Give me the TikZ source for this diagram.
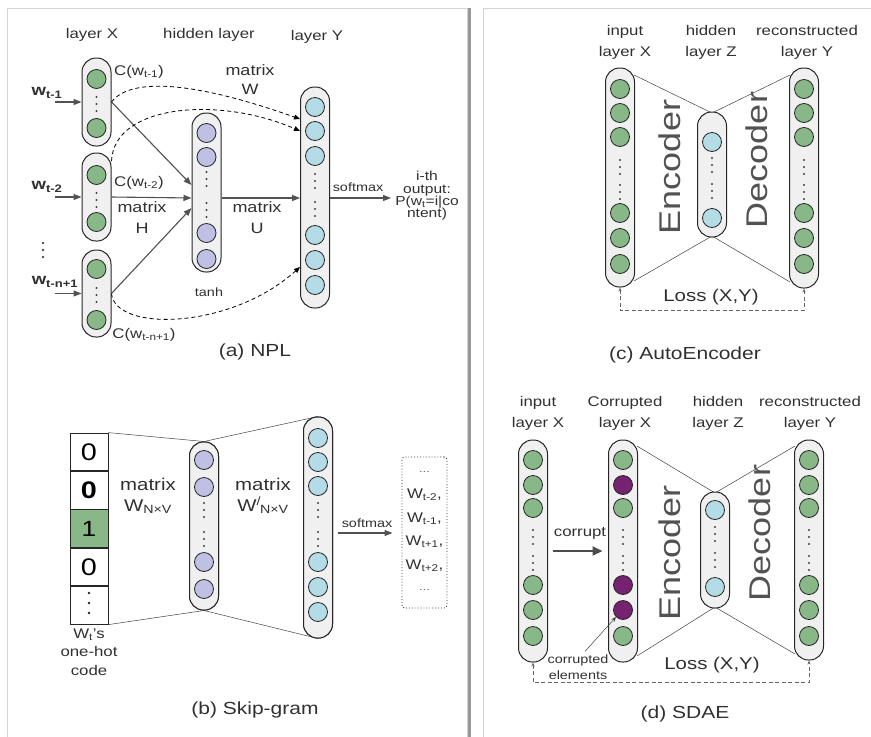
\documentclass[tikz,border=0pt]{standalone}
\usepackage{fontspec}
\setmainfont[FakeStretch=1.2]{Liberation Sans}
\usetikzlibrary{positioning, arrows.meta, calc}

\definecolor{ngreen}{RGB}{136,184,136}
\definecolor{nlav}{RGB}{192,192,228}
\definecolor{nblue}{RGB}{180,220,230}
\definecolor{npurp}{RGB}{118,34,112}
\definecolor{capfill}{RGB}{240,240,240}
\definecolor{txtgray}{RGB}{48,48,48}
\definecolor{framegray}{RGB}{212,212,212}

\newcommand{\sz}[2]{\fontsize{#1pt}{#2pt}\selectfont}
\newcommand{\coldots}[2]{\foreach \dy in {0,7,14} \fill[black!75] (#1,#2+\dy) circle (1.1pt);}

\begin{document}
\begin{tikzpicture}[
    x=1pt, y=-1pt,
    capsule/.style={draw=black!85, line width=1pt, fill=capfill, rounded corners=14pt, minimum width=29pt, inner sep=0pt},
    neuron/.style={circle, draw=black!85, line width=0.8pt, minimum size=19pt, inner sep=0pt},
    lbl/.style={text=txtgray, font=\sz{14}{20}, align=center, inner sep=0pt},
    small/.style={text=txtgray, font=\sz{12}{15}, align=center, inner sep=0pt},
    caption/.style={text=txtgray, font=\sz{17.5}{20}, inner sep=0pt},
    big/.style={text=black!68, font=\sz{30}{30}, rotate=90, inner sep=0pt},
    cell/.style={draw=black!85, line width=0.8pt, minimum width=38pt, minimum height=37.6pt, inner sep=0pt, font=\sz{24}{24}},
    garrow/.style={-{Triangle[length=8pt,width=6pt]}, line width=1.1pt, draw=black!68, fill=black!68},
    dasharrow/.style={-{Triangle[length=6pt,width=5pt]}, dash pattern=on 4pt off 3pt, line width=0.8pt},
    thinline/.style={draw=black!75, line width=0.5pt},
    lossline/.style={{Stealth[length=4pt,width=3pt]}-{Stealth[length=4pt,width=3pt]}, dash pattern=on 4pt off 2.5pt, draw=black!60, line width=0.6pt},
    bigarrow/.style={-{Triangle[length=10pt,width=9pt]}, line width=2pt, draw=black!70, fill=black!70},
]
\useasboundingbox (0,0) rectangle (871,737);

% panel frames
\draw[framegray, line width=0.8pt] (7,737) -- (7,8) -- (467,8) -- (467,737);
\draw[black!40, line width=2.5pt] (469.5,8) -- (469.5,737);
\draw[framegray, line width=0.8pt] (483,737) -- (483,8) -- (871,8);

% ---------------- (a) NPL ----------------
\node[lbl] (labx) at (92,35) {layer X};
\node[lbl] (labh) at (209,35) {hidden layer};
\node[lbl] (laby) at (317,37) {layer Y};

\node[capsule, minimum height=88pt] (x1) at (96.5,102) {};
\node[capsule, minimum height=88pt] (x2) at (96.5,197) {};
\node[capsule, minimum height=87pt] (x3) at (96.5,293.5) {};
\foreach \c/\a/\b/\d in {x1/79/128/97, x2/175/222/193, x3/269/320/288} {
    \node[neuron, fill=ngreen] (\c-a) at (96.5,\a) {};
    \node[neuron, fill=ngreen] (\c-b) at (96.5,\b) {};
    \coldots{96.5}{\d}
}
\foreach \dy in {0,7,14} \fill[black!70] (43,243+\dy) circle (1.4pt);

\node[capsule, minimum height=159pt] (hid) at (206.5,192.5) {};
\foreach \y [count=\i] in {133,157,233,259} \node[neuron, fill=nlav] (hid-\i) at (206.5,\y) {};
\coldots{206.5}{172} \coldots{206.5}{203}

\node[capsule, minimum height=221pt] (ly) at (315,197.5) {};
\foreach \y [count=\i] in {107,131,156,235,260,285} \node[neuron, fill=nblue] (ly-\i) at (315,\y) {};
\coldots{315}{174} \coldots{315}{202}

% inputs
\node[text=txtgray, font=\sz{15.5}{15}\bfseries, inner sep=0pt] (w1) at (47,93) {w\textsubscript{t-1}};
\node[text=txtgray, font=\sz{15.5}{15}\bfseries, inner sep=0pt] (w2) at (47,187) {w\textsubscript{t-2}};
\node[text=txtgray, font=\sz{15.5}{15}\bfseries, inner sep=0pt] (w3) at (55,282) {w\textsubscript{t-n+1}};
\coordinate (s1) at (55,102);
\coordinate (s2) at (55,197);
\coordinate (s3) at (55,293.5);
\draw[garrow] (s1) -- (x1.west);
\draw[garrow] (s2) -- (x2.west);
\draw[garrow] (s3) -- (x3.west);

\node[lbl] (c1) at (139,72) {C(w\textsubscript{t-1})};
\node[lbl] (c2) at (139,183) {C(w\textsubscript{t-2})};
\node[lbl] (c3) at (144,335) {C(w\textsubscript{t-n+1})};

% matrix H and U
\draw[garrow] (x1.east) -- (hid.west |- 0,185);
\draw[garrow] (x2.east) -- (hid.west |- 0,198);
\draw[garrow] (x3.east) -- (hid.west |- 0,208);
\draw[garrow] (hid.east |- 0,198) -- (ly.west |- 0,198);
\node[lbl, font=\sz{15}{21}] (mh) at (142,218) {matrix\\H};
\node[lbl, font=\sz{15}{21}] (mu) at (257,218) {matrix\\U};
\node[small] (tanh) at (209,292) {tanh};

% matrix W (dashed)
\draw[dasharrow] (x1.east) .. controls (130,78) and (190,80) .. (ly.west |- 0,119);
\draw[dasharrow] (x2.east |- 0,161) .. controls (114,104) and (220,96) .. (ly.west |- 0,131);
\draw[dasharrow] (x3.east) .. controls (115,332) and (230,330) .. (ly.west |- 0,267);
\node[lbl, font=\sz{15}{19}] (mw) at (250,80) {matrix\\W};

% output
\node[text=txtgray, font=\sz{13}{12.3}, align=center, inner sep=0pt] (outp) at (427,196) {i-th\\output:\\P(w\textsubscript{t}=i|co\\ntent)};
\draw[garrow] (ly.east |- 0,198) -- ([xshift=-4pt]outp.west |- 0,198);
\node[small] (sm1) at (358,187) {softmax};

\node[caption] (capa) at (255,352) {(a) NPL};

% ---------------- (b) Skip-gram ----------------
\node[cell] (oh1) at (89,451.8) {0};
\node[cell, below=0pt of oh1] (oh2) {\bfseries 0};
\node[cell, below=0pt of oh2, fill=ngreen, font=\sz{22}{22}] (oh3) {1};
\node[cell, below=0pt of oh3] (oh4) {0};
\node[cell, below=0pt of oh4] (oh5) {};
\foreach \dy in {0,10,20} \fill[black!85] (89,593+\dy) circle (1.4pt);
\node[lbl, font=\sz{14}{18.5}, below=4pt of oh5] (ohl) {W\textsubscript{t}’s\\one-hot\\code};

\node[capsule, minimum height=168pt] (sh) at (204,526) {};
\node[capsule, minimum height=221pt] (so) at (318,527.5) {};
\draw[thinline] (oh1.north east) -- (sh.north);
\draw[thinline] (oh5.south east) -- (sh.south);
\draw[thinline] (sh.north) -- (so.north);
\draw[thinline] (sh.south) -- (so.south);
\node[capsule, minimum height=168pt] at (204,526) {};
\node[capsule, minimum height=221pt] at (318,527.5) {};
\foreach \y [count=\i] in {460,487,562,589} \node[neuron, fill=nlav] (sh-\i) at (204,\y) {};
\coldots{204}{503} \coldots{204}{532}
\foreach \y [count=\i] in {438,462,486,562,587,612} \node[neuron, fill=nblue] (so-\i) at (318,\y) {};
\coldots{318}{503} \coldots{318}{532}

\node[lbl, font=\sz{17}{21}] (mwnv) at (148,496) {matrix\\W\textsubscript{N×V}};
\node[lbl, font=\sz{17}{21}] (mwnv2) at (263,496) {matrix\\W\textsuperscript{/}\kern-1pt\textsubscript{N×V}};

\node[draw=black!80, dotted, line width=0.9pt, rounded corners=3pt, minimum width=45pt, minimum height=151pt, inner sep=0pt, text=txtgray, font=\sz{14}{23.6}, align=center] (ctx) at (424.5,532.5)
    {{\sz{9}{23.6}···}\\W\textsubscript{t-2},\\W\textsubscript{t-1},\\W\textsubscript{t+1},\\W\textsubscript{t+2},\\{\sz{9}{23.6}···}};
\draw[garrow] ([xshift=5pt]so.east |- 0,533) -- ([xshift=-9pt]ctx.west |- 0,533);
\node[small] (sm2) at (367,523) {softmax};

\node[caption] (capb) at (255,710) {(b) Skip-gram};

% ---------------- (c) AutoEncoder ----------------
\node[lbl, font=\sz{14}{21}] (aeinl) at (625,42) {input\\layer X};
\node[lbl, font=\sz{14}{21}] (aehl) at (711,42) {hidden\\layer Z};
\node[lbl, font=\sz{14}{21}] (aeoutl) at (807,42) {reconstructed\\layer Y};

\coordinate (aehtop) at (712,113);
\coordinate (aehbot) at (712,236);
\draw[thinline] (634,75) -- (aehtop) -- (790,75);
\draw[thinline] (634,281) -- (aehbot) -- (790,282);
\node[capsule, minimum height=219pt] (aein) at (620,177.5) {};
\node[capsule, minimum height=125pt] (aehid) at (712,174.5) {};
\node[capsule, minimum height=220pt] (aeout) at (804,178) {};
\foreach \y [count=\i] in {89,113,137,213,238,264} {
    \node[neuron, fill=ngreen] (aein-\i) at (620,\y) {};
    \node[neuron, fill=ngreen] (aeout-\i) at (804,\y) {};
}
\coldots{620}{160} \coldots{620}{185}
\coldots{804}{160} \coldots{804}{185}
\foreach \y [count=\i] in {142,218} \node[neuron, fill=nblue] (aehid-\i) at (712,\y) {};
\coldots{712}{158} \coldots{712}{184}

\node[big] (enc1) at (670,167) {Encoder};
\node[big] (dec1) at (757,160) {Decoder};
\node[caption, font=\sz{17}{17}] (loss1) at (711,297) {Loss (X,Y)};
\draw[lossline] (aein.south) -- ++(0,23) -| (aeout.south);

\node[caption] (capc) at (685,355) {(c) AutoEncoder};

% ---------------- (d) SDAE ----------------
\node[lbl, font=\sz{14}{21}] (sdinl) at (538,413) {input\\layer X};
\node[lbl, font=\sz{14}{21}] (sdcorl) at (625,413) {Corrupted\\layer X};
\node[lbl, font=\sz{14}{21}] (sdhl) at (718,413) {hidden\\layer Z};
\node[lbl, font=\sz{14}{21}] (sdoutl) at (810,413) {reconstructed\\layer Y};

\coordinate (sdhtop) at (715,493);
\coordinate (sdhbot) at (715,607);
\draw[thinline] (637,446) -- (sdhtop) -- (795,446);
\draw[thinline] (637,656) -- (sdhbot) -- (795,654);
\node[capsule, minimum height=222pt] (sdin) at (533,551) {};
\node[capsule, minimum height=222pt] (sdcor) at (623,551) {};
\node[capsule, minimum height=116pt] (sdhid) at (715,550) {};
\node[capsule, minimum height=220pt] (sdout) at (809,550) {};
\foreach \y/\col [count=\i] in {460/ngreen,485/npurp,508/ngreen,585/npurp,610/npurp,636/ngreen} {
    \node[neuron, fill=ngreen] (sdin-\i) at (533,\y) {};
    \node[neuron, fill=\col] (sdcor-\i) at (623,\y) {};
    \node[neuron, fill=ngreen] (sdout-\i) at (809,\y) {};
}
\coldots{533}{530} \coldots{533}{556}
\coldots{623}{530} \coldots{623}{556}
\coldots{809}{530} \coldots{809}{556}
\foreach \y [count=\i] in {510,587} \node[neuron, fill=nblue] (sdhid-\i) at (715,\y) {};
\coldots{715}{527} \coldots{715}{553}

\draw[bigarrow, shorten <=4.5pt, shorten >=5.5pt] (sdin.east) -- (sdcor.west);
\node[lbl] (corr) at (580,533) {corrupt};
\node[small, font=\sz{12}{16}] (cel) at (578,667) {corrupted\\elements};
\draw[thinline, -{Stealth[length=5pt,width=4pt]}] ($(cel.north)+(7,-3)$) -- (sdcor-5.south west);

\node[big] (enc2) at (670,553) {Encoder};
\node[big] (dec2) at (760,533) {Decoder};
\node[caption, font=\sz{17}{17}] (loss2) at (712,665) {Loss (X,Y)};
\draw[lossline] (sdin.south) -- ++(0,20) -| (sdout.south);

\node[caption] (capd) at (685,714) {(d) SDAE};

\end{tikzpicture}
\end{document}
